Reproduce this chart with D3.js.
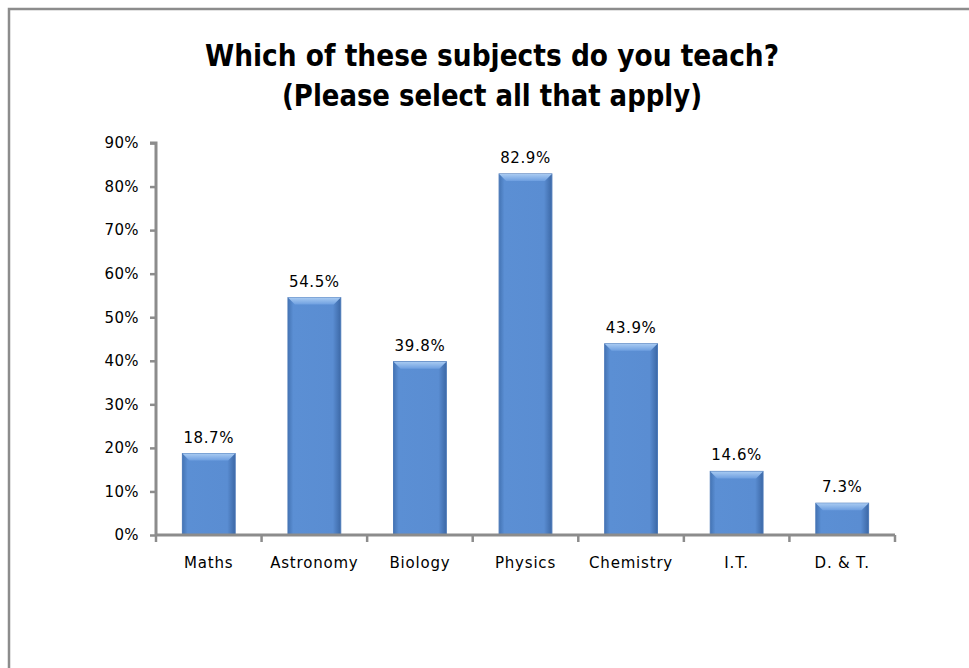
<!DOCTYPE html>
<html>
<head>
<meta charset="utf-8">
<script src="https://cdn.jsdelivr.net/npm/d3@7"></script>
<style>
body { margin: 0; background: #fff; }
text { font-family: "DejaVu Sans", Verdana, sans-serif; }
</style>
</head>
<body>
<div id="chart"></div>
<script>
var width = 969;
var height = 668;

var subjects = ["Maths", "Astronomy", "Biology", "Physics", "Chemistry", "I.T.", "D. & T."];
var percents = [18.7, 54.5, 39.8, 82.9, 43.9, 14.6, 7.3];
var yTicks = [0, 10, 20, 30, 40, 50, 60, 70, 80, 90];
var titleLines = ["Which of these subjects do you teach?", "(Please select all that apply)"];

var svg = d3.select("#chart").append("svg")
	.attr("width", width)
	.attr("height", height);

// outer frame, cut off by the window on the right and bottom
svg.append("rect")
	.attr("x", 9).attr("y", 9)
	.attr("width", 1000).attr("height", 1000)
	.attr("fill", "#fff")
	.attr("stroke", "#8c8c8c")
	.attr("stroke-width", 2.5);

var defs = svg.append("defs");
var grad = defs.append("linearGradient").attr("id", "barfill")
	.attr("x1", 0).attr("x2", 1).attr("y1", 0).attr("y2", 0);
grad.append("stop").attr("offset", "0%").attr("stop-color", "#4474b4");
grad.append("stop").attr("offset", "10%").attr("stop-color", "#5b8fd4");
grad.append("stop").attr("offset", "85%").attr("stop-color", "#5a8dd2");
grad.append("stop").attr("offset", "100%").attr("stop-color", "#3c68a6");

var topGrad = defs.append("linearGradient").attr("id", "bartop")
	.attr("x1", 0).attr("x2", 0).attr("y1", 0).attr("y2", 1);
topGrad.append("stop").attr("offset", "0%").attr("stop-color", "#a9cbf2");
topGrad.append("stop").attr("offset", "100%").attr("stop-color", "#6e9fe0");

// title
svg.selectAll(".title")
	.data(titleLines)
	.enter().append("text")
	.attr("class", "title")
	.attr("x", 492)
	.attr("y", function(d, i) { return 66 + i * 40; })
	.attr("text-anchor", "middle")
	.attr("font-family", "'Liberation Sans Narrow', 'Liberation Sans', Arial, sans-serif")
	.attr("font-weight", "bold")
	.attr("font-size", 31)
	.attr("textLength", function(d, i) { return i === 0 ? 574 : 420; })
	.attr("lengthAdjust", "spacingAndGlyphs")
	.attr("fill", "#000")
	.text(function(d) { return d; });

var x = d3.scaleBand()
	.domain(subjects)
	.range([156, 895])
	.paddingInner(0.5)
	.paddingOuter(0.25);

var y = d3.scaleLinear()
	.domain([0, 90])
	.range([535, 143]);

// y axis
var yAxis = svg.append("g")
	.attr("transform", "translate(156,0)")
	.call(d3.axisLeft(y).tickValues(yTicks).tickSize(6).tickPadding(11)
		.tickFormat(function(d) { return d + "%"; }));
yAxis.select(".domain").attr("stroke", "#8c8c8c").attr("stroke-width", 3)
	.attr("d", "M-6,143H0V535");
yAxis.selectAll(".tick line").attr("stroke", "#8c8c8c").attr("stroke-width", 2.5);
yAxis.selectAll(".tick text").attr("font-size", 15).attr("fill", "#000")
	.attr("letter-spacing", 0.4)
	.attr("font-family", "'DejaVu Sans', Verdana, sans-serif");

// bars
var bars = svg.selectAll(".bar")
	.data(subjects)
	.enter().append("g")
	.attr("class", "bar");

bars.append("rect")
	.attr("x", function(d) { return x(d); })
	.attr("y", function(d, i) { return y(percents[i]); })
	.attr("width", x.bandwidth())
	.attr("height", function(d, i) { return y(0) - y(percents[i]); })
	.attr("fill", "url(#barfill)")
	.attr("stroke", "#4a78b8")
	.attr("stroke-width", 1);

bars.append("path")
	.attr("d", function(d, i) {
		var x0 = x(d), x1 = x0 + x.bandwidth(), t = y(percents[i]);
		return "M" + x0 + "," + t + "H" + x1 + "L" + (x1 - 7) + "," + (t + 7) + "H" + (x0 + 7) + "Z";
	})
	.attr("fill", "url(#bartop)");

bars.append("text")
	.attr("x", function(d) { return x(d) + x.bandwidth() / 2; })
	.attr("y", function(d, i) { return y(percents[i]) - 11; })
	.attr("text-anchor", "middle")
	.attr("font-size", 15)
	.attr("letter-spacing", 0.6)
	.attr("fill", "#000")
	.text(function(d, i) { return percents[i].toFixed(1) + "%"; });

// x axis
var xAxisLine = svg.append("g");
var edges = subjects.map(function(d) { return x(d) - x.step() * x.paddingInner() / 2; });
edges.push(895);
xAxisLine.append("line")
	.attr("x1", 156).attr("x2", 895)
	.attr("y1", 535).attr("y2", 535)
	.attr("stroke", "#8c8c8c").attr("stroke-width", 3);
xAxisLine.selectAll(".xtick")
	.data(edges)
	.enter().append("line")
	.attr("x1", function(d) { return d; })
	.attr("x2", function(d) { return d; })
	.attr("y1", 535).attr("y2", 542)
	.attr("stroke", "#8c8c8c").attr("stroke-width", 2.5);

svg.selectAll(".xlabel")
	.data(subjects)
	.enter().append("text")
	.attr("x", function(d) { return x(d) + x.bandwidth() / 2; })
	.attr("y", 568)
	.attr("text-anchor", "middle")
	.attr("font-size", 15)
	.attr("letter-spacing", 0.8)
	.attr("fill", "#000")
	.text(function(d) { return d; });
</script>
</body>
</html>
